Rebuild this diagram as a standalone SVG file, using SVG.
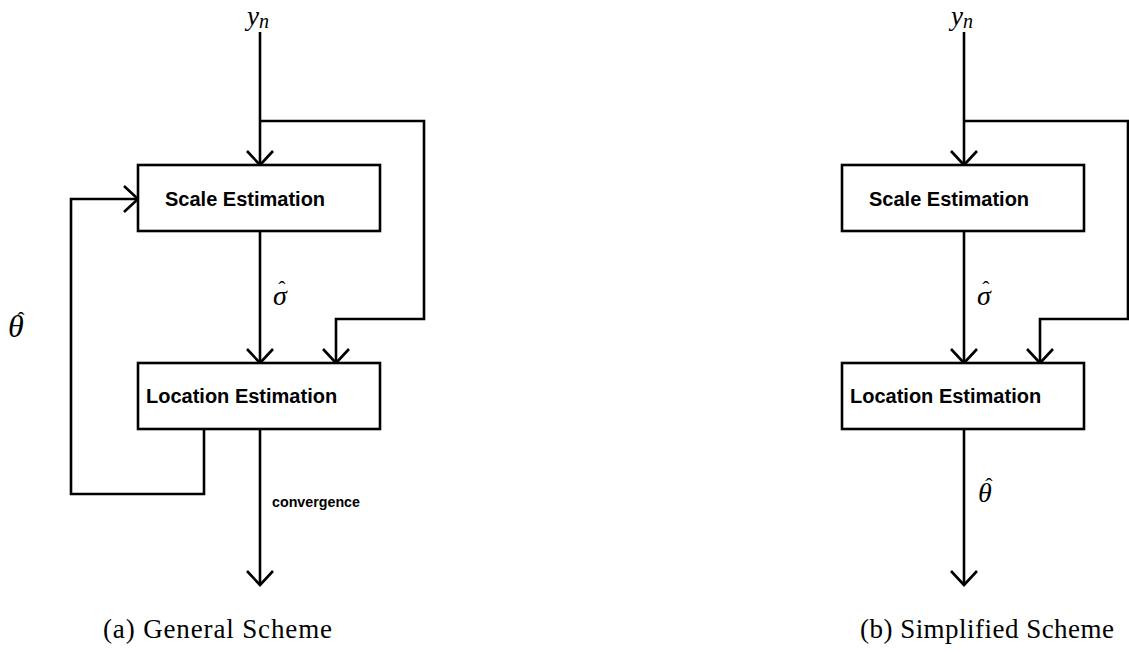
<svg xmlns="http://www.w3.org/2000/svg" width="1129" height="652" viewBox="0 0 1129 652">
<style>
.box{fill:#fff;stroke:#000;stroke-width:2.6}
.ln{fill:none;stroke:#000;stroke-width:2.6;stroke-linejoin:miter}
.lbl{font-family:"Liberation Sans",Arial,sans-serif;font-weight:bold;font-size:20px;fill:#000}
.small{font-family:"Liberation Sans",Arial,sans-serif;font-weight:bold;font-size:14.5px;fill:#000}
.math{font-family:"Liberation Serif","Times New Roman",serif;font-style:italic;fill:#000}
.hat{font-family:"Liberation Serif","Times New Roman",serif;fill:#000}
.cap{font-family:"Liberation Serif","Times New Roman",serif;font-size:27px;fill:#000}
</style>
<defs>
<marker id="arr" markerUnits="userSpaceOnUse" markerWidth="40" markerHeight="40" refX="20" refY="20" orient="auto" viewBox="0 0 40 40">
<path d="M6,7 L20,20 L6,33" fill="none" stroke="#000" stroke-width="2.6"/>
</marker>
</defs>
<g id="connectors">
<path class="ln" d="M260,32 V165" marker-end="url(#arr)"/>
<path class="ln" d="M260,121 H424 V319 H336 V363" marker-end="url(#arr)"/>
<path class="ln" d="M260,231 V363" marker-end="url(#arr)"/>
<path class="ln" d="M204,429 V494 H71 V199 H138" marker-end="url(#arr)"/>
<path class="ln" d="M260,429 V585" marker-end="url(#arr)"/>
<path class="ln" d="M964,32 V165" marker-end="url(#arr)"/>
<path class="ln" d="M964,121 H1128 V319 H1040 V363" marker-end="url(#arr)"/>
<path class="ln" d="M964,231 V363" marker-end="url(#arr)"/>
<path class="ln" d="M964,429 V585" marker-end="url(#arr)"/>
</g>
<g id="scale-a">
<rect class="box" x="138" y="165" width="242" height="66"/>
<text class="lbl" x="165" y="206">Scale Estimation</text>
</g>
<g id="location-a">
<rect class="box" x="138" y="363" width="242" height="66"/>
<text class="lbl" x="146" y="403">Location Estimation</text>
</g>
<g id="scale-b">
<rect class="box" x="842" y="165" width="242" height="66"/>
<text class="lbl" x="869" y="206">Scale Estimation</text>
</g>
<g id="location-b">
<rect class="box" x="842" y="363" width="242" height="66"/>
<text class="lbl" x="850" y="403">Location Estimation</text>
</g>
<g id="labels-a">
<text class="math" x="247" y="25" font-size="27">y<tspan font-size="20" dy="3">n</tspan></text>
<text class="math" x="273" y="305" font-size="28">σ</text>
<text class="hat" x="282" y="296" font-size="22" text-anchor="middle">ˆ</text>
<text class="math" x="8" y="337" font-size="32">θ</text>
<text class="hat" x="21" y="327" font-size="22" text-anchor="middle">ˆ</text>
<text class="small" x="272" y="507" textLength="88" lengthAdjust="spacingAndGlyphs">convergence</text>
<text class="cap" x="103" y="638" textLength="229" lengthAdjust="spacing">(a) General Scheme</text>
</g>
<g id="labels-b">
<text class="math" x="951" y="25" font-size="27">y<tspan font-size="20" dy="3">n</tspan></text>
<text class="math" x="977" y="305" font-size="28">σ</text>
<text class="hat" x="986" y="296" font-size="22" text-anchor="middle">ˆ</text>
<text class="math" x="978" y="502" font-size="28">θ</text>
<text class="hat" x="989" y="493" font-size="22" text-anchor="middle">ˆ</text>
<text class="cap" x="860" y="638" textLength="254" lengthAdjust="spacing">(b) Simplified Scheme</text>
</g>
</svg>
